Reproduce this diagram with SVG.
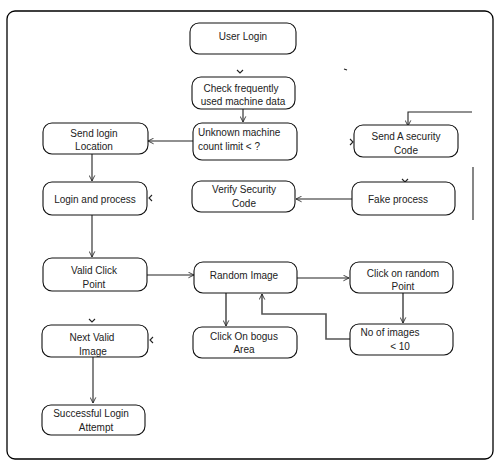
<svg xmlns="http://www.w3.org/2000/svg" width="499" height="466" viewBox="0 0 499 466">
<defs>
<marker id="arr" viewBox="0 0 10 10" refX="9" refY="5" markerWidth="7" markerHeight="7" orient="auto" markerUnits="userSpaceOnUse">
<path d="M1,1 L9,5 L1,9" fill="none" stroke="#222" stroke-width="1.2"/>
</marker>
<style>
.node rect{fill:#fff;stroke:#111;stroke-width:1.1}
.node text{font-family:"Liberation Sans",Arial,sans-serif;font-size:10px;fill:#222;text-anchor:middle}
.node text.l{text-anchor:start}
.conn path{fill:none;stroke:#222;stroke-width:1.1}
.conn .a{marker-end:url(#arr)}
.conn .g{stroke:#555;stroke-width:1.6}
.tick{fill:none;stroke:#333;stroke-width:0.9}
</style>
</defs>
<rect x="0" y="0" width="499" height="466" fill="#fff"/>
<rect x="7" y="11" width="486" height="448" rx="8" fill="none" stroke="#000" stroke-width="1.3"/>

<g class="conn" id="connectors">
<path class="a" d="M243,109 L243,122"/>
<path class="a" d="M193,141 L148,141"/>
<path class="a" d="M92,154 L92,181"/>
<path class="a" d="M352,199 L296,199"/>
<path class="a" d="M92,215 L92,257"/>
<path class="a" d="M147,275 L194,275"/>
<path class="a g" d="M226,293 L226,326"/>
<path class="a" d="M297,278 L349,278"/>
<path class="a g" d="M403,293 L403,323"/>
<path class="a g" d="M350,339 L326,339 L326,314 L262,314 L262,294"/>
<path class="a" d="M93,357 L93,403"/>
<path class="a" d="M472,112 L408,112 L408,126"/>
<path d="M473,167 L473,220"/>
<path class="tick" d="M237,70 L240,73 L243,70"/>
<path class="tick" d="M402,179 L405,182 L408,179"/>
<path class="tick" d="M89,319 L92,322 L95,319"/>
<path class="tick" d="M152,195 L149,198 L152,201"/>
<path class="tick" d="M153,337 L150,340 L153,343"/>
<path class="tick" d="M350,139 L353,142 L350,145"/>
<path class="tick" d="M344,69 L347,70"/>
</g>

<g class="node" id="n_user_login"><rect x="190" y="23" width="106" height="31" rx="9"/><text x="243" y="40">User Login</text></g>
<g class="node" id="n_check"><rect x="192" y="77" width="103" height="32" rx="9"/><text x="241" y="92">Check frequently</text><text x="243" y="105">used machine data</text></g>
<g class="node" id="n_unknown"><rect x="193" y="123" width="104" height="37" rx="9"/><text class="l" x="198" y="136">Unknown machine</text><text class="l" x="198" y="150">count limit &lt; ?</text></g>
<g class="node" id="n_send_loc"><rect x="43" y="123" width="105" height="31" rx="9"/><text x="94" y="137">Send login</text><text x="94" y="150">Location</text></g>
<g class="node" id="n_send_code"><rect x="354" y="125" width="104" height="32" rx="9"/><text x="406" y="140">Send A security</text><text x="406" y="154">Code</text></g>
<g class="node" id="n_login_proc"><rect x="43" y="182" width="104" height="33" rx="9"/><text x="95" y="203">Login and process</text></g>
<g class="node" id="n_verify"><rect x="192" y="181" width="103" height="31" rx="9"/><text x="244" y="193">Verify Security</text><text x="244" y="207">Code</text></g>
<g class="node" id="n_fake"><rect x="352" y="182" width="103" height="33" rx="9"/><text x="398" y="203">Fake process</text></g>
<g class="node" id="n_valid"><rect x="43" y="258" width="104" height="33" rx="9"/><text x="94" y="274">Valid Click</text><text x="94" y="288">Point</text></g>
<g class="node" id="n_random"><rect x="194" y="262" width="103" height="31" rx="9"/><text x="244" y="279">Random Image</text></g>
<g class="node" id="n_click_rand"><rect x="350" y="262" width="103" height="31" rx="9"/><text x="403" y="277">Click on random</text><text x="403" y="290">Point</text></g>
<g class="node" id="n_bogus"><rect x="193" y="327" width="104" height="31" rx="9"/><text x="244" y="340">Click On bogus</text><text x="244" y="353">Area</text></g>
<g class="node" id="n_noimg"><rect x="350" y="324" width="103" height="31" rx="9"/><text x="390" y="336">No of images</text><text x="400" y="350">&lt; 10</text></g>
<g class="node" id="n_next"><rect x="42" y="325" width="106" height="32" rx="9"/><text x="92" y="341">Next Valid</text><text x="93" y="355">Image</text></g>
<g class="node" id="n_success"><rect x="42" y="405" width="103" height="30" rx="9"/><text x="91" y="417">Successful Login</text><text x="96" y="431">Attempt</text></g>
</svg>
